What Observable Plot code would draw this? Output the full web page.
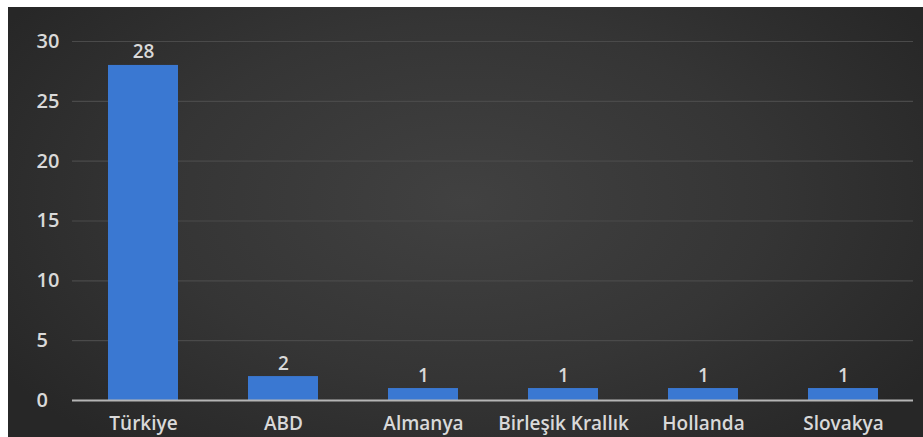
<!DOCTYPE html>
<html>
<head>
<meta charset="utf-8">
<script src="https://cdn.jsdelivr.net/npm/d3@7"></script>
<script src="https://cdn.jsdelivr.net/npm/@observablehq/plot@0.6"></script>
<style>
  html, body { margin: 0; padding: 0; background: #ffffff; }
  #wrap { position: relative; width: 923px; height: 437px; background: #ffffff; overflow: hidden; }
  #chart { position: absolute; left: 8px; top: 7px; width: 915px; height: 430px;
    background: radial-gradient(ellipse 60% 75% at 50% 45%, #414141 0%, #353535 55%, #272727 100%); }
  #chart svg { display: block; background: transparent; }
</style>
</head>
<body>
<div id="wrap"><div id="chart"></div></div>
<script>
const categories = ["Türkiye", "ABD", "Almanya", "Birleşik Krallık", "Hollanda", "Slovakya"];
const values = [28, 2, 1, 1, 1, 1];
const yTicks = [0, 5, 10, 15, 20, 25, 30];

const data = categories.map((c, i) => ({country: c, value: values[i]}));
const font = "'Open Sans', sans-serif";

const plot = Plot.plot({
  width: 915,
  height: 430,
  marginLeft: 64,
  marginRight: 10,
  marginTop: 34,
  marginBottom: 37,
  style: {background: "transparent", fontFamily: font, color: "#d9d9d9"},
  x: {domain: categories, paddingInner: 0.5, paddingOuter: 0.25, label: null, axis: null},
  y: {domain: [0, 30], label: null, axis: null},
  marks: [
    Plot.ruleY(yTicks.filter(d => d > 0), {stroke: "#4a4a4a", strokeWidth: 1.2}),
    Plot.barY(data, {x: "country", y: "value", fill: "#3a78d2"}),
    Plot.ruleY([0], {stroke: "#b5b5b5", strokeWidth: 2}),
    Plot.text(data, {x: "country", y: "value", text: d => String(d.value), lineAnchor: "bottom", dy: -7,
      fill: "#d9d9d9", fontSize: 19, fontWeight: 600, fontFamily: font}),
    Plot.text(yTicks, {y: d => d, text: d => String(d), frameAnchor: "left", dx: -36, textAnchor: "start",
      fill: "#d9d9d9", fontSize: 20, fontWeight: 600, fontFamily: font}),
    Plot.axisX({tickSize: 0, tickPadding: 16, fontSize: 19, fontWeight: 600, fill: "#d9d9d9", label: null, fontFamily: font})
  ]
});
document.getElementById("chart").appendChild(plot);
</script>
</body>
</html>
